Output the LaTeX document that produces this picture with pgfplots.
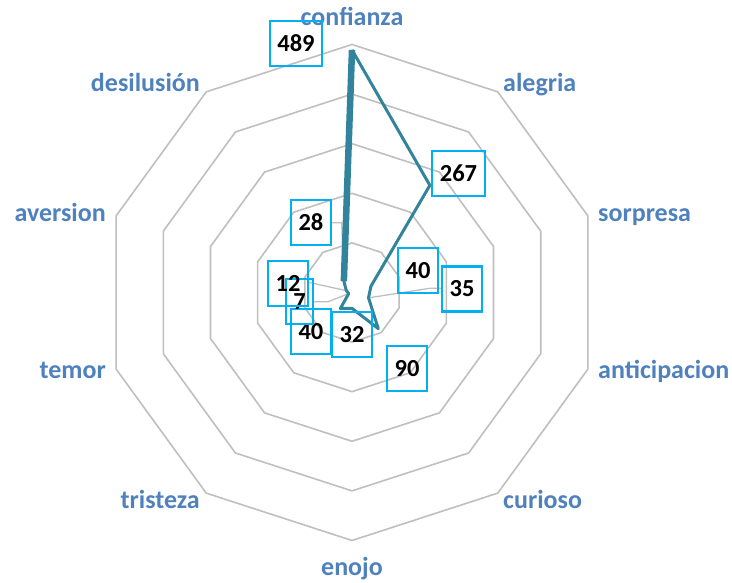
\documentclass[border=0pt]{standalone}
\usepackage{fontspec}
\setmainfont{Carlito}
\usepackage{pgfplots}
\pgfplotsset{compat=1.18}
\definecolor{catblue}{RGB}{79,129,189}
\definecolor{serie}{RGB}{49,132,155}
\definecolor{ringgray}{RGB}{191,191,191}
\definecolor{boxcyan}{RGB}{0,176,240}
\tikzset{
    cat/.style={font=\fontsize{26}{26}\selectfont\bfseries, text=catblue, inner sep=0pt},
    lab/.style={draw=boxcyan, line width=2.1pt, font=\fontsize{24.5}{24.5}\selectfont\bfseries,
                inner xsep=7.5pt, minimum height=45pt, text=black},
}
\begin{document}
\begin{tikzpicture}
\begin{axis}[
    name=ax,
    x=0.496pt, y=0.496pt,
    xmin=-709.7, xmax=766.1,
    ymin=-583.7, ymax=589.7,
    hide axis, clip=false,
]
% anillos de la red (decagono)
\addplot[ringgray, line width=1.6pt, line join=round, data cs=polar] coordinates {(90,100)(54,100)(18,100)(-18,100)(-54,100)(-90,100)(-126,100)(-162,100)(162,100)(126,100)(90,100)};
\addplot[ringgray, line width=1.6pt, line join=round, data cs=polar] coordinates {(90,200)(54,200)(18,200)(-18,200)(-54,200)(-90,200)(-126,200)(-162,200)(162,200)(126,200)(90,200)};
\addplot[ringgray, line width=1.6pt, line join=round, data cs=polar] coordinates {(90,300)(54,300)(18,300)(-18,300)(-54,300)(-90,300)(-126,300)(-162,300)(162,300)(126,300)(90,300)};
\addplot[ringgray, line width=1.6pt, line join=round, data cs=polar] coordinates {(90,400)(54,400)(18,400)(-18,400)(-54,400)(-90,400)(-126,400)(-162,400)(162,400)(126,400)(90,400)};
\addplot[ringgray, line width=1.6pt, line join=round, data cs=polar] coordinates {(90,500)(54,500)(18,500)(-18,500)(-54,500)(-90,500)(-126,500)(-162,500)(162,500)(126,500)(90,500)};

% lineas guia de las etiquetas
\draw[ringgray, line width=1.3pt] (axis cs:-42.3,140.7) -- (axis cs:-20.8,140.7) -- (axis cs:-16.46,22.65);
\draw[ringgray, line width=1.3pt] (axis cs:-88.1,20.6) -- (axis cs:-11.41,3.71);
\draw[ringgray, line width=1.3pt] (axis cs:-78.6,-18.5) -- (axis cs:-47.8,-18.5) -- (axis cs:-6.66,-2.16);
\draw[ringgray, line width=1.3pt] (axis cs:180.8,8.5) -- (axis cs:157.3,8.5) -- (axis cs:33.29,-10.82);

% serie
\addplot[serie, line width=3pt, line join=round, data cs=polar] coordinates {
    (90,489) (54,267) (18,40) (-18,35) (-54,90) (-90,32)
    (-126,40) (-162,7) (162,12) (126,28) (90,489)};
\addplot[serie, line width=6.5pt, data cs=polar] coordinates {(126,28) (90,489)};

% categorias
\node[cat, anchor=base]      at (axis cs:0,537.3)      {confianza};
\node[cat, anchor=base west] at (axis cs:304.4,404.2)  {alegria};
\node[cat, anchor=base west] at (axis cs:496,142.1)    {sorpresa};
\node[cat, anchor=base west] at (axis cs:496,-174.4)   {anticipacion};
\node[cat, anchor=base west] at (axis cs:304.4,-436.5) {curioso};
\node[cat, anchor=base]      at (axis cs:0,-569.6)     {enojo};
\node[cat, anchor=base east] at (axis cs:-306.5,-436.5) {tristeza};
\node[cat, anchor=base east] at (axis cs:-496,-174.4)  {temor};
\node[cat, anchor=base east] at (axis cs:-496,142.1)   {aversion};
\node[cat, anchor=base east] at (axis cs:-306.5,404.2) {desilusión};

% etiquetas de datos
\node[lab] at (axis cs:-112.9,502.0) {489};
\node[lab] at (axis cs:214.7,239.9)  {267};
\node[lab] at (axis cs:133.1,44.4)   {40};
\node[lab] at (axis cs:221.8,7.1)    {35};
\node[lab] at (axis cs:110.9,-153.2) {90};
\node[lab] at (axis cs:0,-84.7)      {32};
\node[lab] at (axis cs:-82.7,-78.6)  {40};
\node[lab] at (axis cs:-105.8,-18.1) {7};
\node[lab] at (axis cs:-129.0,18.1)  {12};
\node[lab] at (axis cs:-82.7,141.1)  {28};
\end{axis}
\pgfresetboundingbox
\path (ax.south west) rectangle (ax.north east);
\end{tikzpicture}
\end{document}
